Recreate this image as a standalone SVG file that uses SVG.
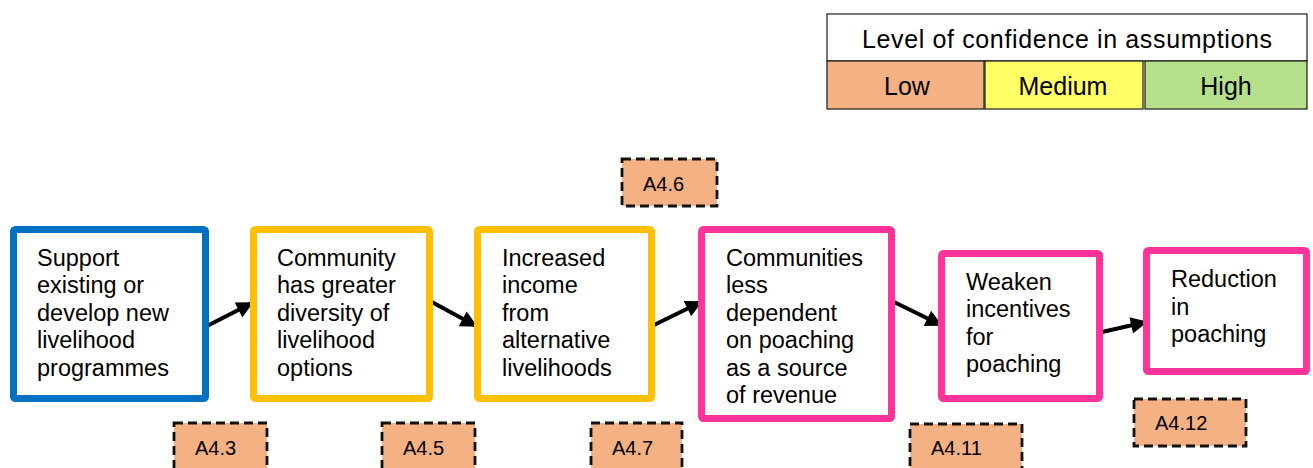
<svg xmlns="http://www.w3.org/2000/svg" width="1313" height="468" viewBox="0 0 1313 468">
  <style>
    .node { fill: #ffffff; stroke-width: 7; }
    .blue { stroke: #0070C0; }
    .amber { stroke: #FFC000; }
    .pink { stroke: #FF3399; }
    .ntxt { font-family: "Liberation Sans", Arial, sans-serif; font-size: 23.5px; fill: #000000; }
    .asm { fill: #F4B183; stroke: #111111; stroke-width: 2.8; stroke-dasharray: 9 5; }
    .atxt { font-family: "Liberation Sans", Arial, sans-serif; font-size: 20px; fill: #000000; }
    .leg { stroke: #1a1a1a; stroke-width: 1.2; }
    .ltxt { font-family: "Liberation Sans", Arial, sans-serif; font-size: 25px; fill: #000000; text-anchor: middle; }
    .conn { stroke: #000000; stroke-width: 4; fill: none; marker-end: url(#head); }
  </style>
  <defs>
    <marker id="head" viewBox="0 0 10 10" refX="9" refY="5" markerWidth="4.6" markerHeight="4.2" orient="auto" markerUnits="strokeWidth">
      <path d="M0,0 L10,5 L0,10 z" fill="#000000"/>
    </marker>
  </defs>

  <!-- Legend -->
  <g id="legend">
    <rect class="leg" x="827" y="14" width="480" height="47" fill="#ffffff"/>
    <text class="ltxt" x="1067" y="48" textLength="410" lengthAdjust="spacing">Level of confidence in assumptions</text>
    <rect class="leg" x="827" y="61" width="157" height="48" fill="#F4B183"/>
    <rect class="leg" x="985" y="61" width="158" height="48" fill="#FFFF66"/>
    <rect class="leg" x="1145" y="61" width="162" height="48" fill="#B5DF8B"/>
    <text class="ltxt" x="907" y="95">Low</text>
    <text class="ltxt" x="1063" y="95">Medium</text>
    <text class="ltxt" x="1226" y="95">High</text>
  </g>

  <!-- Connectors -->
  <g id="connectors">
    <path class="conn" d="M207,326 L252,303"/>
    <path class="conn" d="M430,301 L476,326"/>
    <path class="conn" d="M654,325 L701,302"/>
    <path class="conn" d="M894,302 L941,325"/>
    <path class="conn" d="M1102,332 L1146,322"/>
  </g>

  <!-- Outcome chain -->
  <g id="n1">
    <rect class="node blue" x="13.5" y="229.5" width="192" height="169" rx="2"/>
    <text class="ntxt"><tspan x="37" y="265.5">Support</tspan><tspan x="37" y="293">existing or</tspan><tspan x="37" y="320.5">develop new</tspan><tspan x="37" y="348">livelihood</tspan><tspan x="37" y="375.5">programmes</tspan></text>
  </g>
  <g id="n2">
    <rect class="node amber" x="253.5" y="229.5" width="176" height="169" rx="2"/>
    <text class="ntxt"><tspan x="277" y="265.5">Community</tspan><tspan x="277" y="293">has greater</tspan><tspan x="277" y="320.5">diversity of</tspan><tspan x="277" y="348">livelihood</tspan><tspan x="277" y="375.5">options</tspan></text>
  </g>
  <g id="n3">
    <rect class="node amber" x="477.5" y="229.5" width="174" height="169" rx="2"/>
    <text class="ntxt"><tspan x="502" y="265.5">Increased</tspan><tspan x="502" y="293">income</tspan><tspan x="502" y="320.5">from</tspan><tspan x="502" y="348">alternative</tspan><tspan x="502" y="375.5">livelihoods</tspan></text>
  </g>
  <g id="n4">
    <rect class="node pink" x="701.5" y="229.5" width="190" height="189" rx="2"/>
    <text class="ntxt"><tspan x="726" y="265.5">Communities</tspan><tspan x="726" y="293">less</tspan><tspan x="726" y="320.5">dependent</tspan><tspan x="726" y="348">on poaching</tspan><tspan x="726" y="375.5">as a source</tspan><tspan x="726" y="403">of revenue</tspan></text>
  </g>
  <g id="n5">
    <rect class="node pink" x="941.5" y="253.5" width="158" height="145" rx="2"/>
    <text class="ntxt"><tspan x="966" y="289.5">Weaken</tspan><tspan x="966" y="317">incentives</tspan><tspan x="966" y="344.5">for</tspan><tspan x="966" y="372">poaching</tspan></text>
  </g>
  <g id="n6">
    <rect class="node pink" x="1146.5" y="250.5" width="160" height="121" rx="2"/>
    <text class="ntxt"><tspan x="1171" y="287">Reduction</tspan><tspan x="1171" y="314.5">in</tspan><tspan x="1171" y="342">poaching</tspan></text>
  </g>

  <!-- Assumptions -->
  <g id="a4-3">
    <rect class="asm" x="174" y="423" width="93" height="49"/>
    <text class="atxt" x="195" y="455">A4.3</text>
  </g>
  <g id="a4-5">
    <rect class="asm" x="382" y="423" width="93" height="49"/>
    <text class="atxt" x="403" y="455">A4.5</text>
  </g>
  <g id="a4-6">
    <rect class="asm" x="622" y="159" width="95" height="47"/>
    <text class="atxt" x="643" y="191">A4.6</text>
  </g>
  <g id="a4-7">
    <rect class="asm" x="591" y="423" width="91" height="49"/>
    <text class="atxt" x="612" y="455">A4.7</text>
  </g>
  <g id="a4-11">
    <rect class="asm" x="910" y="424" width="112" height="49"/>
    <text class="atxt" x="931" y="455">A4.11</text>
  </g>
  <g id="a4-12">
    <rect class="asm" x="1134" y="399" width="112" height="47"/>
    <text class="atxt" x="1155" y="430">A4.12</text>
  </g>
</svg>
